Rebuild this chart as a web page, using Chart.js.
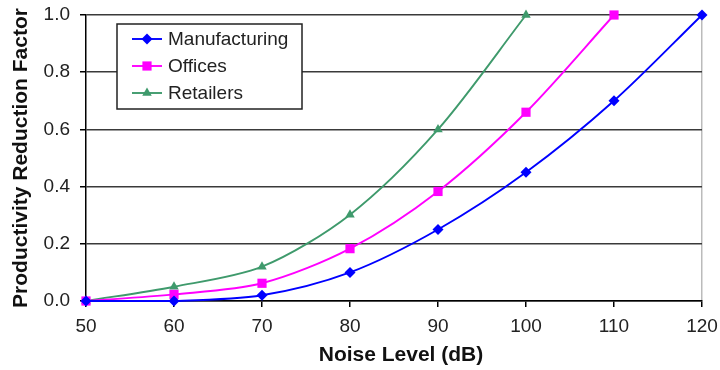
<!DOCTYPE html>
<html>
<head>
<meta charset="utf-8">
<script src="https://cdn.jsdelivr.net/npm/chart.js@4/dist/chart.umd.min.js"></script>
<style>
html,body{margin:0;padding:0;background:#fff;}
#wrap{width:720px;height:370px;position:relative;}
</style>
</head>
<body>
<div id="wrap"><canvas id="c" width="720" height="370"></canvas></div>
<script>
const noiseLevels = [50, 60, 70, 80, 90, 100, 110, 120];
const manufacturing = [0, 0, 0.02, 0.10, 0.25, 0.45, 0.70, 1.0];
const offices = [0, 0.023, 0.062, 0.183, 0.383, 0.66, 1.0];
const retailers = [0, 0.05, 0.12, 0.302, 0.60, 1.0];
const seriesNames = ['Manufacturing', 'Offices', 'Retailers'];
const xTicks = [50, 60, 70, 80, 90, 100, 110, 120];
const yTicks = [0, 0.2, 0.4, 0.6, 0.8, 1.0];

const FONT = "'Liberation Sans', Arial, sans-serif";
const toPts = arr => arr.map((v, i) => ({x: noiseLevels[i], y: v}));

const styles = [
  {color: '#0000ff', pointStyle: 'rectRot', radius: 5.5},
  {color: '#ff00ff', pointStyle: 'rect', radius: 6.5},
  {color: '#3f9a6c', pointStyle: 'triangle', radius: 5.5}
];
const seriesData = [manufacturing, offices, retailers];

const datasets = seriesData.map((d, i) => ({
  label: seriesNames[i],
  data: toPts(d),
  borderColor: styles[i].color,
  backgroundColor: styles[i].color,
  pointBackgroundColor: styles[i].color,
  pointBorderColor: styles[i].color,
  pointStyle: styles[i].pointStyle,
  pointRadius: styles[i].radius,
  pointBorderWidth: 0,
  borderWidth: 1.9,
  tension: 0.3,
  clip: false,
  fill: false
}));

const legendPlugin = {
  id: 'insideLegend',
  afterDraw(chart) {
    const ctx = chart.ctx;
    const x0 = 117, y0 = 24, w = 185, h = 85;
    ctx.save();
    ctx.fillStyle = '#fff';
    ctx.fillRect(x0, y0, w, h);
    ctx.strokeStyle = '#222';
    ctx.lineWidth = 1.5;
    ctx.strokeRect(x0, y0, w, h);
    const rows = [39, 66, 93];
    chart.data.datasets.forEach((ds, i) => {
      const y = rows[i];
      ctx.strokeStyle = ds.borderColor;
      ctx.lineWidth = 1.9;
      ctx.beginPath();
      ctx.moveTo(132, y);
      ctx.lineTo(162, y);
      ctx.stroke();
      ctx.fillStyle = ds.borderColor;
      Chart.helpers.drawPoint(ctx, {pointStyle: ds.pointStyle, radius: ds.pointRadius, rotation: 0, borderWidth: 0}, 147, y);
      ctx.fillStyle = '#222';
      ctx.font = '19px ' + FONT;
      ctx.textBaseline = 'middle';
      ctx.textAlign = 'left';
      ctx.fillText(ds.label, 168, y + 1);
    });
    ctx.restore();
  }
};

const zeroPad = s => { s.paddingTop = 0; s.paddingBottom = 0; s.paddingLeft = 0; s.paddingRight = 0; };
const shiftTitle = (s, dx) => {
  if (s._shifted) return;
  const orig = s.drawTitle;
  s.drawTitle = function () {
    this.ctx.save();
    this.ctx.translate(dx, 0);
    orig.call(this);
    this.ctx.restore();
  };
  s._shifted = true;
};

new Chart(document.getElementById('c'), {
  type: 'line',
  data: {datasets},
  options: {
    responsive: false,
    animation: false,
    devicePixelRatio: 1,
    layout: {padding: {left: 0, right: 18, top: 15, bottom: 0}},
    plugins: {legend: {display: false}, tooltip: {enabled: false}},
    scales: {
      x: {
        type: 'linear',
        min: 50, max: 120,
        afterBuildTicks: s => { s.ticks = xTicks.map(v => ({value: v})); },
        afterFit: s => { s.height = 69; zeroPad(s); },
        afterUpdate: s => shiftTitle(s, 7),
        ticks: {color: '#222', font: {family: FONT, size: 19}, padding: 8},
        grid: {
          color: c => (c.tick && c.tick.value === 120) ? '#bbbbbb' : 'rgba(0,0,0,0)',
          lineWidth: 1.5,
          tickColor: '#000',
          tickLength: 6
        },
        border: {color: '#000', width: 1.5},
        title: {display: true, text: 'Noise Level (dB)', color: '#111', font: {family: FONT, size: 21, weight: 'bold'}, padding: {top: 0, bottom: 2}}
      },
      y: {
        min: 0, max: 1.0,
        afterBuildTicks: s => { s.ticks = yTicks.map(v => ({value: v})); },
        afterFit: s => { s.width = 86; zeroPad(s); },
        ticks: {color: '#222', font: {family: FONT, size: 19}, padding: 10, callback: v => Number(v).toFixed(1)},
        grid: {color: '#3a3a3a', lineWidth: 1.5, tickColor: '#000', tickLength: 6},
        border: {color: '#000', width: 1.5},
        title: {display: true, text: 'Productivity Reduction Factor', color: '#111', font: {family: FONT, size: 21, weight: 'bold'}, padding: {top: 9, bottom: 0}}
      }
    }
  },
  plugins: [legendPlugin]
});
</script>
</body>
</html>
